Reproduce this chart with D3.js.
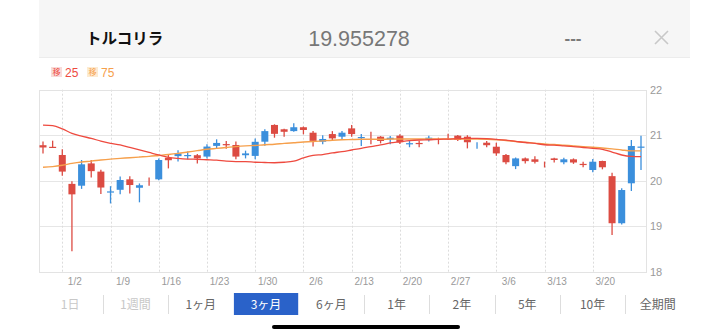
<!DOCTYPE html>
<html><head><meta charset="utf-8">
<script src="https://cdn.jsdelivr.net/npm/d3@7/dist/d3.min.js"></script>
<style>
body{margin:0;background:#fff;}
svg{display:block;font-family:"Liberation Sans","Noto Sans CJK JP",sans-serif;}
</style>
</head><body>
<svg id="chart" width="728" height="336"></svg>
<script>
// ---- data ----
const dates = ["12/29","12/30",
 "1/2","1/3","1/4","1/5","1/6",
 "1/9","1/10","1/11","1/12","1/13",
 "1/16","1/17","1/18","1/19","1/20",
 "1/23","1/24","1/25","1/26","1/27",
 "1/30","1/31","2/1","2/2","2/3",
 "2/6","2/7","2/8","2/9","2/10",
 "2/13","2/14","2/15","2/16","2/17",
 "2/20","2/21","2/22","2/23","2/24",
 "2/27","2/28","3/1","3/2","3/3",
 "3/6","3/7","3/8","3/9","3/10",
 "3/13","3/14","3/15","3/16","3/17",
 "3/20","3/21","3/22","3/23","3/24",
 "3/27"];
const open  = [20.78,20.745,20.565,19.93,19.89,20.38,20.20,19.74,19.80,20.03,19.845,20.00,20.03,20.505,20.54,20.55,20.56,20.53,20.765,20.805,20.785,20.56,20.545,20.857,21.225,21.13,21.09,21.175,21.055,20.857,21.025,20.967,21.15,20.935,20.955,20.967,20.91,20.99,20.80,20.83,20.91,20.915,20.955,20.99,20.967,20.805,20.835,20.747,20.565,20.32,20.49,20.47,20.395,20.49,20.405,20.47,20.37,20.235,20.433,20.10,19.065,19.943,20.725];
const high  = [20.86,20.88,20.69,19.99,20.455,20.455,20.24,19.88,20.09,20.10,19.94,20.07,20.49,20.565,20.67,20.64,20.585,20.80,20.91,20.87,20.86,20.66,20.93,21.13,21.24,21.14,21.26,21.19,21.09,21.0,21.09,21.09,21.225,21.026,21.077,20.98,20.98,21.02,20.88,20.88,20.99,20.945,21.03,21.005,21.0,20.844,20.87,20.835,20.585,20.51,20.51,20.54,20.42,20.505,20.505,20.49,20.417,20.477,20.44,20.175,19.835,20.894,20.99];
const low   = [20.60,20.72,20.11,18.45,19.82,20.07,19.71,19.50,19.70,19.72,19.525,19.89,20.01,20.27,20.42,20.47,20.38,20.49,20.71,20.70,20.47,20.49,20.47,20.77,20.945,20.965,21.075,21.02,20.75,20.80,20.875,20.895,20.965,20.76,20.80,20.82,20.80,20.805,20.735,20.735,20.86,20.80,20.895,20.87,20.71,20.70,20.735,20.55,20.36,20.255,20.38,20.38,20.29,20.40,20.36,20.37,20.295,20.185,20.25,18.805,19.04,19.774,20.235];
const close = [20.73,20.72,20.20,19.70,20.36,20.21,19.85,19.765,20.015,19.905,19.90,19.995,20.455,20.45,20.60,20.565,20.49,20.75,20.83,20.78,20.53,20.60,20.855,21.09,21.03,21.075,21.175,21.115,20.875,20.917,20.93,21.055,21.025,20.96,20.95,20.873,20.945,20.845,20.825,20.805,20.945,20.91,20.95,20.895,20.845,20.81,20.78,20.60,20.405,20.49,20.43,20.415,20.39,20.455,20.47,20.40,20.345,20.417,20.295,19.065,19.795,20.763,20.75];
const ma25 = [21.22,21.21,21.14,21.04,20.98,20.93,20.87,20.82,20.785,20.73,20.675,20.62,20.565,20.515,20.49,20.475,20.47,20.46,20.45,20.43,20.42,20.42,20.405,20.40,20.395,20.405,20.43,20.50,20.555,20.575,20.61,20.64,20.675,20.71,20.75,20.785,20.83,20.855,20.88,20.895,20.90,20.91,20.915,20.925,20.93,20.93,20.925,20.91,20.89,20.865,20.84,20.82,20.79,20.78,20.765,20.75,20.73,20.71,20.69,20.63,20.565,20.535,20.53];
const ma75 = [20.295,20.31,20.34,20.38,20.41,20.43,20.455,20.475,20.49,20.505,20.52,20.535,20.555,20.575,20.60,20.63,20.66,20.69,20.71,20.73,20.75,20.765,20.775,20.79,20.80,20.82,20.835,20.85,20.86,20.875,20.89,20.90,20.905,20.91,20.91,20.91,20.915,20.915,20.915,20.915,20.915,20.915,20.915,20.915,20.915,20.915,20.91,20.90,20.885,20.86,20.845,20.825,20.805,20.795,20.78,20.765,20.75,20.735,20.72,20.70,20.675,20.655,20.655];
const xTickLabels = ["1/2","1/9","1/16","1/23","1/30","2/6","2/13","2/20","2/27","3/6","3/13","3/20"];
const yTickValues = [18,19,20,21,22];
const periods = ["1日","1週間","1ヶ月","3ヶ月","6ヶ月","1年","2年","5年","10年","全期間"];
const disabledPeriods = ["1日","1週間"];
const selectedPeriod = "3ヶ月";
const title = "トルコリラ";
const price = "19.955278";
const change = "---";
const maLabels = [{k:"移",n:"25"},{k:"移",n:"75"}];

// ---- drawing ----
const svg = d3.select("#chart");
const L = 39, R = 646, T = 89.7, B = 271.7;
const RED = "#dc4b42", BLUE = "#3b8fdc";
const MA25C = "#ee4a3f", MA75C = "#f6a04c";

const x = d3.scalePoint().domain(dates).range([43, 641]);
const y = d3.scaleLinear().domain([18, 22]).range([B, T]);

// header
svg.append("rect").attr("x",39).attr("y",0).attr("width",651).attr("height",57).attr("fill","#f6f6f6");
svg.append("line").attr("x1",39).attr("x2",690).attr("y1",57.5).attr("y2",57.5).attr("stroke","#ececec");
svg.append("text").attr("x",86).attr("y",44).attr("font-size",15.5).attr("font-weight","bold")
  .attr("font-family","'Noto Sans CJK JP',sans-serif").attr("fill","#111").text(title);
svg.append("text").attr("x",359).attr("y",45.5).attr("text-anchor","middle").attr("font-size",21.5)
  .attr("fill","#777").text(price);
svg.append("text").attr("x",573).attr("y",44).attr("text-anchor","middle").attr("font-size",17)
  .attr("font-weight","bold").attr("fill","#7a7a7a").text(change);
// close X
svg.append("path").attr("d","M655,31 L668,44 M668,31 L655,44").attr("stroke","#c8c8c8").attr("stroke-width",1.6).attr("fill","none");

// legend
const legBg = ["#f8dcda","#fdebd2"], legFg = [MA25C, MA75C];
const legX = [51, 87];
maLabels.forEach((m,i)=>{
  const g = svg.append("g").attr("transform",`translate(${legX[i]},67)`);
  g.append("rect").attr("width",11).attr("height",10).attr("fill",legBg[i]);
  g.append("text").attr("x",5.5).attr("y",8.3).attr("text-anchor","middle").attr("font-size",8)
    .attr("font-family","'Noto Sans CJK JP',sans-serif").attr("fill",legFg[i]).text(m.k);
  g.append("text").attr("x",14).attr("y",9.5).attr("font-size",12).attr("fill",legFg[i]).text(m.n);
});

// grid
const grid = svg.append("g");
grid.selectAll("line.h").data(yTickValues).join("line")
  .attr("x1",L).attr("x2",R).attr("y1",d=>Math.round(y(d))+0.5).attr("y2",d=>Math.round(y(d))+0.5)
  .attr("stroke","#e6e6e6").attr("stroke-width",1);
grid.selectAll("line.v").data(xTickLabels).join("line")
  .attr("x1",d=>Math.round(x(d))+0.5).attr("x2",d=>Math.round(x(d))+0.5).attr("y1",T).attr("y2",B)
  .attr("stroke","#dcdcdc").attr("stroke-dasharray","2,2");
// frame
svg.append("rect").attr("x",L+0.5).attr("y",Math.round(T)+0.5).attr("width",R-L).attr("height",Math.round(B)-Math.round(T))
  .attr("fill","none").attr("stroke","#e3e3e3");

// y axis (right)
const yAxis = svg.append("g").attr("transform",`translate(${R},0)`)
  .call(d3.axisRight(y).tickValues(yTickValues).tickSize(0).tickPadding(4).tickFormat(d3.format("d")));
yAxis.select(".domain").remove();
yAxis.selectAll("text").attr("font-size",11).attr("fill","#9a9a9a").attr("font-family","'Liberation Sans',sans-serif");

// x axis
const xAxis = svg.append("g").attr("transform",`translate(0,${B})`)
  .call(d3.axisBottom(x).tickValues(xTickLabels).tickSize(0).tickPadding(6));
xAxis.select(".domain").remove();
xAxis.selectAll("text").attr("font-size",10).attr("fill","#9a9a9a").attr("dx",12)
  .attr("font-family","'Liberation Sans',sans-serif");

// candles
const data = dates.map((d,i)=>({d, o:open[i], h:high[i], l:low[i], c:close[i]}));
const bw = 7;
const cg = svg.append("g");
const cand = cg.selectAll("g").data(data).join("g");
cand.append("line")
  .attr("x1",d=>x(d.d)).attr("x2",d=>x(d.d)).attr("y1",d=>y(d.h)).attr("y2",d=>y(d.l))
  .attr("stroke",d=>d.c>=d.o?BLUE:RED).attr("stroke-width",1.3);
cand.append("rect")
  .attr("x",d=>x(d.d)-bw/2).attr("width",bw)
  .attr("y",d=>y(Math.max(d.o,d.c)))
  .attr("height",d=>{const h=Math.abs(y(d.o)-y(d.c)); return h<0.5?0:Math.max(h,1.2);})
  .attr("fill",d=>d.c>=d.o?BLUE:RED);

// moving averages
const line = d3.line().x((v,i)=>x(dates[i])).y(v=>y(v)).curve(d3.curveMonotoneX);
svg.append("path").datum(ma75).attr("d",line).attr("fill","none").attr("stroke",MA75C).attr("stroke-width",1.4);
svg.append("path").datum(ma25).attr("d",line).attr("fill","none").attr("stroke",MA25C).attr("stroke-width",1.3);

// period buttons
const bx = d3.scaleBand().domain(periods).range([37.5, 690.5]);
const pg = svg.append("g");
periods.forEach((p,i)=>{
  const cx = bx(p) + bx.bandwidth()/2;
  if (p === selectedPeriod) {
    pg.append("rect").attr("x",bx(p)+0.5).attr("y",293).attr("width",bx.bandwidth()-1).attr("height",22).attr("fill","#2a62c9");
  }
  if (i>0 && p!==selectedPeriod && periods[i-1]!==selectedPeriod) {
    pg.append("line").attr("x1",Math.round(bx(p))+0.5).attr("x2",Math.round(bx(p))+0.5).attr("y1",295).attr("y2",314).attr("stroke","#dddddd");
  }
  pg.append("text").attr("x",cx).attr("y",308.5).attr("text-anchor","middle").attr("font-size",12)
    .attr("font-family","'Noto Sans CJK JP',sans-serif")
    .attr("fill", p===selectedPeriod ? "#ffffff" : (disabledPeriods.includes(p) ? "#c8c8c8" : "#666"))
    .text(p);
});
// home indicator
svg.append("rect").attr("x",272).attr("y",325).attr("width",188).attr("height",4).attr("rx",2).attr("fill","#000");
</script>
</body></html>
